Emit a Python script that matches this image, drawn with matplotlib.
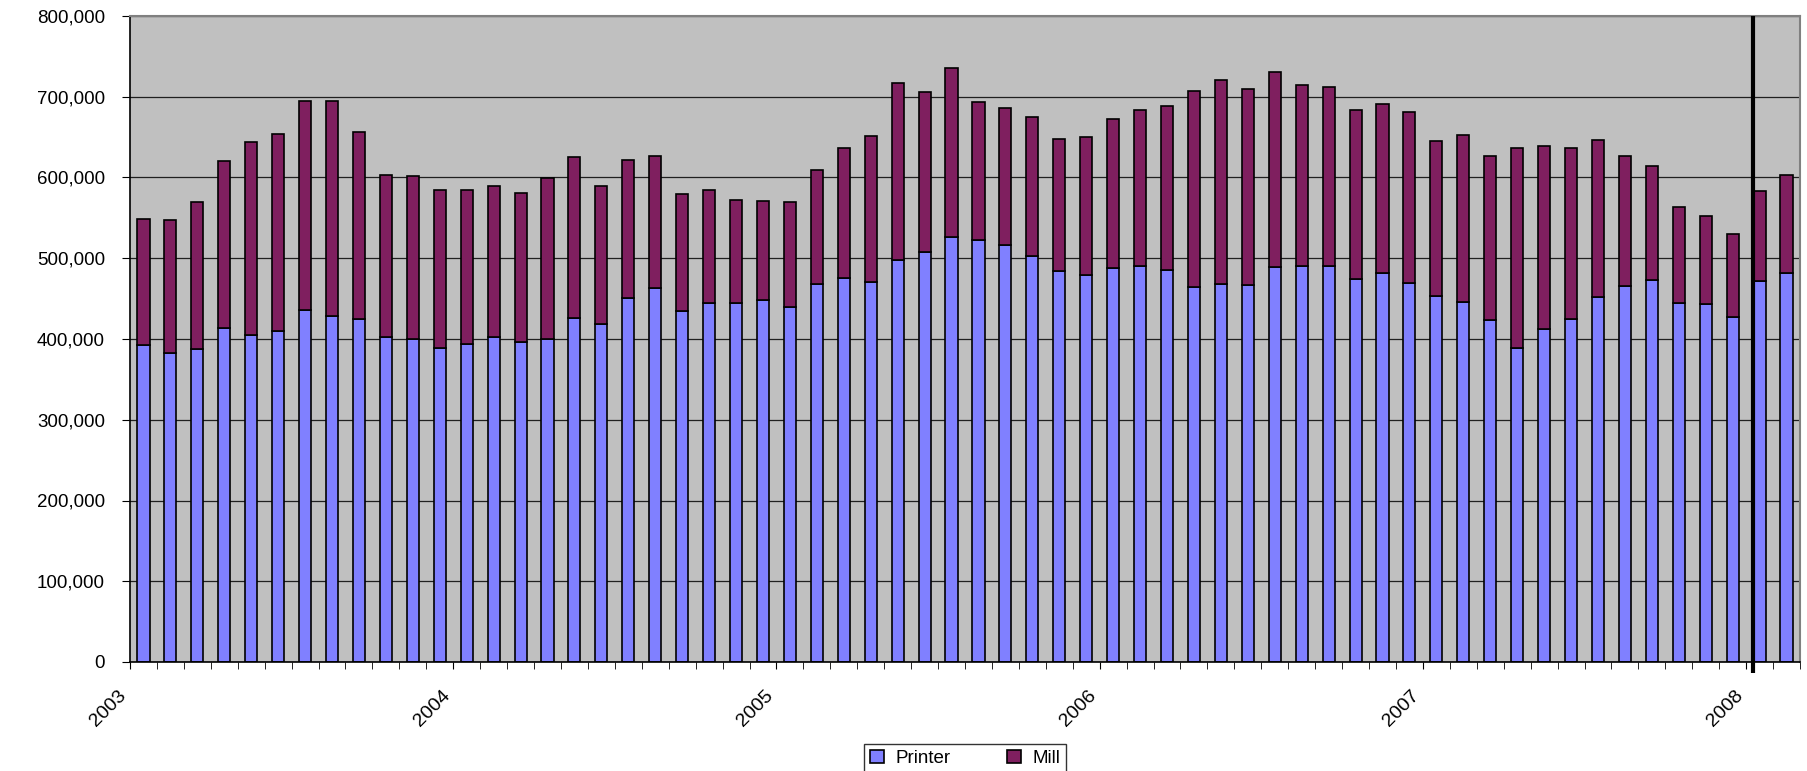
import numpy as np
import matplotlib
matplotlib.use("Agg")
import matplotlib.pyplot as plt
from matplotlib.ticker import FixedLocator, FuncFormatter
from matplotlib.transforms import ScaledTranslation

plt.rcParams["font.family"] = ["Liberation Sans", "DejaVu Sans"]

# monthly values, Jan 2003 .. Feb 2008 (thousands)
printer = [393, 383, 388, 414, 405, 410, 436, 428, 425, 403, 400, 389,
           394, 403, 396, 400, 426, 419, 451, 463, 435, 445, 445, 448,
           440, 468, 476, 471, 498, 508, 526, 523, 517, 503, 484, 479,
           488, 491, 485, 465, 468, 467, 489, 490, 491, 474, 482, 469,
           453, 446, 423, 389, 413, 425, 452, 466, 473, 445, 443, 427,
           472, 482]
mill = [156, 164, 182, 206, 239, 244, 259, 267, 231, 200, 202, 195,
        190, 187, 185, 199, 200, 170, 171, 164, 144, 140, 127, 123,
        130, 141, 161, 181, 219, 198, 209, 171, 169, 172, 164, 171,
        184, 193, 203, 242, 253, 243, 242, 224, 221, 210, 209, 212,
        192, 207, 204, 248, 226, 212, 194, 161, 141, 118, 109, 103,
        111, 121]
years = ["2003", "2004", "2005", "2006", "2007", "2008"]

printer = np.array(printer) * 1000
mill = np.array(mill) * 1000
x = np.arange(len(printer))

fig = plt.figure(figsize=(18.07, 7.71), dpi=100)
ax = fig.add_axes([130 / 1807, 1 - 662 / 771, 1670 / 1807, 646 / 771])
ax.set_facecolor("#C0C0C0")

ax.bar(x, printer, width=0.45, color="#8080FF", edgecolor="black",
       linewidth=1.2, label="Printer", zorder=2)
ax.bar(x, mill, width=0.45, bottom=printer, color="#7F1F5F",
       edgecolor="black", linewidth=1.2, label="Mill", zorder=2)

# vertical marker line at start of 2008 data
ax.vlines(59.75, -0.017, 1, transform=ax.get_xaxis_transform(),
          color="black", linewidth=3, clip_on=False, zorder=3)

ax.set_xlim(-0.5, len(printer) - 0.5)
ax.set_ylim(0, 800000)
ax.set_yticks(np.arange(0, 800001, 100000))
ax.yaxis.set_major_formatter(FuncFormatter(lambda v, p: f"{v:,.0f}"))
ax.grid(axis="y", color="#202020", linewidth=0.9)
ax.set_axisbelow(True)

# year labels on the category boundaries, a tick for every month
year_pos = np.arange(len(years)) * 12 - 0.5
ax.xaxis.set_major_locator(FixedLocator(year_pos))
ax.xaxis.set_minor_locator(FixedLocator(np.arange(-0.5, len(printer), 1)))
ax.set_xticklabels(years, rotation=45, ha="right", va="top", fontsize=14)
for lbl in ax.get_xticklabels():
    lbl.set_transform(lbl.get_transform()
                      + ScaledTranslation(-0.08, 0, fig.dpi_scale_trans))

ax.tick_params(axis="x", which="both", direction="out", length=5,
               color="black", pad=13)
ax.tick_params(axis="y", direction="out", length=6, color="black",
               labelsize=13.5, pad=12)

for side in ["left", "bottom"]:
    ax.spines[side].set_color("black")
    ax.spines[side].set_linewidth(1.2)
for side in ["top", "right"]:
    ax.spines[side].set_color("#808080")
    ax.spines[side].set_linewidth(1.5)

# legend centred under the plot area
leg = ax.legend(loc="upper center", ncol=2, frameon=True,
                fancybox=False, edgecolor="black", fontsize=13.5,
                handlelength=0.75, handleheight=0.75, handletextpad=0.6,
                columnspacing=3.0, borderpad=0.3, borderaxespad=0)
leg.set_bbox_to_anchor((965 / 1807, 1 - 744 / 771), transform=fig.transFigure)
leg.get_frame().set_linewidth(1.0)

fig.savefig("out.png", dpi=100)
